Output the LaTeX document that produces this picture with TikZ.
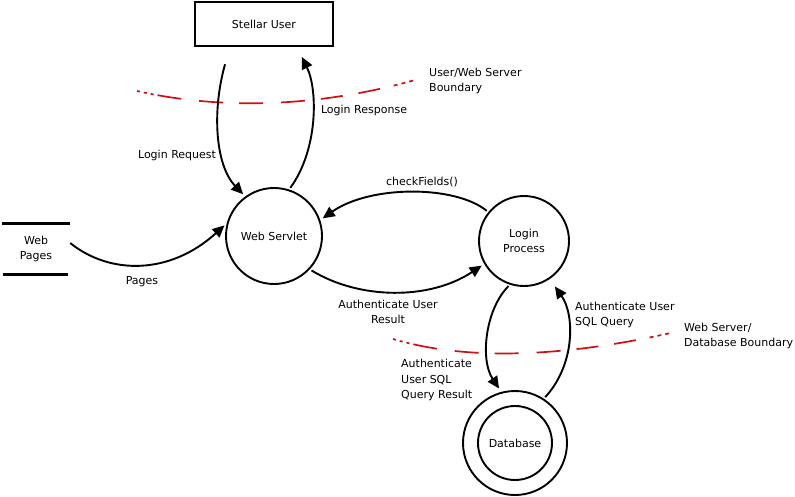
\documentclass[tikz,border=0pt]{standalone}
\usepackage{fontspec}
\setmainfont{DejaVu Sans}
\usetikzlibrary{arrows.meta,positioning,calc}
\usepackage{xcolor}
\definecolor{dark}{HTML}{000000}
\definecolor{bndred}{HTML}{D01010}
\tikzset{
  entity/.style={draw=dark, line width=2pt, minimum width=138pt, minimum height=44pt, inner sep=0pt},
  procnode/.style={draw=dark, circle, line width=1.9pt, align=center, inner sep=0pt},
  storenode/.style={align=center, minimum width=68pt, minimum height=50pt, inner sep=0pt},
  lbl/.style={align=center, inner sep=0pt},
  flow/.style={-{Triangle[length=12pt,width=11pt]}, line width=1.9pt, draw=dark},
  boundary/.style={draw=bndred, line width=1.7pt,
    dash pattern=on 3pt off 4pt on 3pt off 4pt on 3pt off 4pt on 24pt off 18pt on 24pt off 16pt on 24pt off 18pt on 24pt off 16pt on 22pt off 16pt on 22pt off 14pt on 4pt off 4pt on 4pt off 4pt on 4pt off 40pt}
}

\begin{document}
\begin{tikzpicture}[x=1pt, y=-1pt, font=\fontsize{11}{15.5}\selectfont]
  \useasboundingbox (0,0) rectangle (795,496);

  % external entity, processes and stores
  \node[entity] (user) at (264,24) {Stellar User};
  \node[procnode, minimum size=96pt] (servlet) at (274,236) {Web Servlet};
  \node[procnode, minimum size=90pt] (login) at (524,241) {Login\\Process};
  \node[procnode, minimum size=104pt] (dbouter) at (515,443) {};
  \node[procnode, minimum size=74pt] (db) at (515,443) {Database};
  \node[storenode] (pages) at (36,249) {Web\\Pages};
  \draw[line width=2.8pt] (pages.north west) -- (pages.north east);
  \draw[line width=2.8pt] ([xshift=1pt]pages.south west) -- ([xshift=-2pt]pages.south east);

  % trust boundaries
  \coordinate (b1a) at (137,91);
  \coordinate (b1b) at (422,78);
  \draw[boundary] (b1a) .. controls (230,112) and (330,105) .. (b1b);
  \node[lbl, align=left, anchor=west] (b1lbl) at (429,81) {User/Web Server\\Boundary};
  \coordinate (b2a) at (393,339);
  \coordinate (b2b) at (675,332);
  \draw[boundary] (b2a) .. controls (470,362) and (570,356) .. (b2b);
  \node[lbl, align=left, anchor=west] (b2lbl) at (684,336) {Web Server/\\Database Boundary};

  % data flows
  \draw[flow, shorten <=18pt, shorten >=3pt] ([xshift=-34pt]user.south) .. controls (212,110) and (215,165) .. (servlet.126);
  \draw[flow, shorten <=2pt, shorten >=11pt] (servlet.72) .. controls (318,150) and (318,90) .. ([xshift=33pt]user.south);
  \draw[flow, shorten <=2pt, shorten >=3pt] (login.141) .. controls (455,185) and (370,185) .. (servlet.19);
  \draw[flow, shorten >=3pt] ([yshift=6pt]pages.east) .. controls (110,275) and (170,275) .. (servlet.165);
  \draw[flow, shorten <=2pt, shorten >=3pt] (servlet.-43) .. controls (360,300) and (430,300) .. (login.210);
  \draw[flow, shorten <=2pt, shorten >=4pt] (login.252) .. controls (485,310) and (480,360) .. (dbouter.105);
  \draw[flow, shorten <=2pt, shorten >=9pt] (dbouter.57) .. controls (575,365) and (575,315) .. (login.-56);

  % flow labels
  \node[lbl] (reqlbl) at (177,155) {Login Request};
  \node[lbl] (resplbl) at (364,110) {Login Response};
  \node[lbl] (chklbl) at (422,182) {checkFields()};
  \node[lbl] (pageslbl) at (142,282) {Pages};
  \node[lbl] (reslbl) at (388,312) {Authenticate User\\Result};
  \node[lbl, align=left, anchor=west] (qrylbl) at (575,315) {Authenticate User\\SQL Query};
  \node[lbl, align=left, anchor=west] (qreslbl) at (401,380) {Authenticate\\User SQL\\Query Result};
\end{tikzpicture}
\end{document}
